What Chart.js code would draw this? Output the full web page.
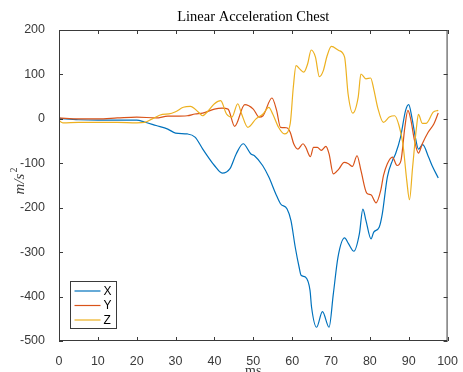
<!DOCTYPE html>
<html>
<head>
<meta charset="utf-8">
<script src="https://cdn.jsdelivr.net/npm/chart.js@4.4.0/dist/chart.umd.min.js"></script>
<style>
  html, body { margin: 0; padding: 0; background: #ffffff; }
  #wrap { width: 463px; height: 372px; }
</style>
</head>
<body>
<div id="wrap"><canvas id="accelChart" width="463" height="372"></canvas></div>
<script>
// Data (time in ms, acceleration in m/s^2)
let seriesNames = ["X", "Y", "Z"];
let seriesColors = ["#0072BD", "#D95319", "#EDB120"];

let xTimes = [0, 5, 10, 15, 20, 22, 25, 28, 30, 33, 35, 37, 38.4, 40, 42, 44, 45.6, 47.4, 49.4, 50.3,
  52.4, 54, 55.8, 57, 58.7, 59.7, 60.8, 61.8, 62.3, 63.4, 64.6, 65, 66.3, 67.8, 69.5, 70.6, 71.8, 73.5,
  74.5, 75.9, 77.3, 78.2, 79, 80.3, 81, 82.4, 83.2, 84.5, 85.8, 86.6, 87.9, 89.2, 90, 90.8, 91.7, 92.5,
  93.6, 95.1, 96, 97.6];
let xValues = [1, -2, -3, -3, -3, -7, -15, -23, -32, -34, -41, -68, -86, -105, -122, -112, -79, -56, -79, -83,
  -105, -131, -169, -191, -203, -229, -289, -334, -352, -356, -386, -424, -469, -434, -469, -394, -311, -268,
  -281, -298, -259, -203, -229, -270, -255, -244, -214, -131, -94, -79, -41, 19, 32, 4, -41, -68,
  -58, -86, -105, -133];

let yTimes = [0, 5, 10, 15, 20, 25, 28, 30, 33, 35, 37, 40, 42, 43.5, 45.2, 47.8, 50, 51.5, 52.5, 54.8,
  56, 57, 58.5, 59.5, 60.4, 61.5, 62.8, 63.5, 64.7, 65.5, 66.5, 67.5, 68.7, 69.5, 70.6, 72, 73.4, 74.5,
  75.5, 76.7, 77.7, 79.2, 80.3, 81.6, 82.8, 83.5, 84.5, 85.8, 87, 88, 89, 89.8, 90.5, 91.5, 92.5, 93.5,
  95, 96.5, 97.6];
let yValues = [2, 0, 0, 2, 4, 2, 6, 6, 7, 11, 13, 22, 24, 22, -17, 32, 22, 4, 7, 47,
  19, -19, -20, -30, -56, -68, -56, -64, -85, -64, -64, -71, -62, -79, -124, -113, -98, -101,
  -107, -83, -116, -167, -171, -189, -161, -128, -101, -86, -105, -94, -19, 19, 0, -49, -77, -56,
  -30, -11, 13];

let zTimes = [0, 1, 5, 10, 15, 20, 22, 24, 26.6, 28.3, 30, 32, 33.8, 35.9, 36.9, 38.5, 40, 41.6, 43.1, 44.5,
  46, 47, 48.6, 50.7, 52.5, 54, 55, 56.5, 58, 59.5, 60.3, 61, 62, 63, 64, 64.9, 66, 67, 68, 69, 70.1,
  72, 73.5, 74.4, 75.6, 77, 77.7, 79, 80.2, 81, 82, 83.5, 85, 86.4, 87.5, 88.5, 89.5, 90.2, 91, 92,
  92.5, 93.5, 94.5, 96.3, 97.6];
let zValues = [-4, -9, -8, -8, -8, -9, -8, 0, 10, 11, 16, 26, 28, 15, 7, 19, 34, 41, 11, 4,
  34, 11, -19, 0, 11, 26, 11, -19, -34, -11, 71, 120, 112, 105, 124, 155, 139, 95, 108, 142, 163,
  154, 139, 56, 13, 49, 101, 90, 92, 67, 26, -8, 4, 7, -15, -56, -139, -182, -109, -19,
  10, -10, -10, 15, 19];

let xTickStep = 10;
let yTickStep = 100;

let axisColor = "#3a3a3a";
let tickFont = { family: "'Liberation Sans', Arial, sans-serif", size: 12.5 };

function toPoints(times, values) {
  return times.map((t, i) => ({ x: t, y: values[i] }));
}

// Frame, inward ticks, legend, title and axis labels in the MATLAB style
const matlabFrame = {
  id: "matlabFrame",
  afterDatasetsDraw(chart) {
    let ctx = chart.ctx;
    let area = chart.chartArea;
    let xs = chart.scales.x;
    let ys = chart.scales.y;
    let tickLen = 4;

    ctx.save();
    ctx.strokeStyle = axisColor;
    ctx.lineWidth = 1;

    // box
    ctx.strokeRect(area.left + 0.5, area.top + 0.5, area.right - area.left - 1, area.bottom - area.top - 1);

    // ticks pointing inwards, on all four sides
    ctx.beginPath();
    xs.ticks.forEach((t) => {
      let px = Math.round(xs.getPixelForValue(t.value)) + 0.5;
      ctx.moveTo(px, area.bottom);
      ctx.lineTo(px, area.bottom - tickLen);
      ctx.moveTo(px, area.top);
      ctx.lineTo(px, area.top + tickLen);
    });
    ys.ticks.forEach((t) => {
      let py = Math.round(ys.getPixelForValue(t.value)) + 0.5;
      ctx.moveTo(area.left, py);
      ctx.lineTo(area.left + tickLen, py);
      ctx.moveTo(area.right, py);
      ctx.lineTo(area.right - tickLen, py);
    });
    ctx.stroke();

    // legend box in the lower left corner
    let lx = 70.5, ly = 281.5, lw = 46, lh = 47;
    ctx.fillStyle = "#ffffff";
    ctx.fillRect(lx, ly, lw, lh);
    ctx.strokeRect(lx, ly, lw, lh);
    ctx.font = "12px 'Liberation Sans', Arial, sans-serif";
    ctx.textBaseline = "middle";
    ctx.textAlign = "left";
    chart.data.datasets.forEach((ds, i) => {
      let rowY = ly + 9.5 + i * 14.5;
      ctx.strokeStyle = ds.borderColor;
      ctx.lineWidth = 1.2;
      ctx.beginPath();
      ctx.moveTo(lx + 4, rowY);
      ctx.lineTo(lx + 30, rowY);
      ctx.stroke();
      ctx.fillStyle = "#000000";
      ctx.fillText(ds.label, lx + 33, rowY + 0.5);
    });

    // title
    let cx = (area.left + area.right) / 2;
    ctx.fillStyle = "#000000";
    ctx.textAlign = "center";
    ctx.textBaseline = "middle";
    ctx.font = "14.5px 'Liberation Serif', 'DejaVu Serif', serif";
    ctx.fillText("Linear Acceleration Chest", cx, 17);

    // x label (cut off by the bottom edge like the reference)
    ctx.fillStyle = axisColor;
    ctx.textBaseline = "top";
    ctx.font = "14px 'Liberation Serif', 'DejaVu Serif', serif";
    ctx.fillText("ms", cx, 364);

    // y label m/s^2, rotated
    ctx.save();
    ctx.translate(24, 181);
    ctx.rotate(-Math.PI / 2);
    ctx.textBaseline = "alphabetic";
    ctx.textAlign = "left";
    ctx.font = "italic 15px 'Liberation Serif', 'DejaVu Serif', serif";
    let base = "m/s";
    let bw = ctx.measureText(base).width;
    ctx.font = "10px 'Liberation Serif', 'DejaVu Serif', serif";
    let sw = ctx.measureText("2").width;
    let startX = -(bw + sw + 1) / 2;
    ctx.font = "italic 15px 'Liberation Serif', 'DejaVu Serif', serif";
    ctx.fillText(base, startX, 0);
    ctx.font = "10px 'Liberation Serif', 'DejaVu Serif', serif";
    ctx.fillText("2", startX + bw + 1, -7);
    ctx.restore();

    ctx.restore();
  },
};

let ctx = document.getElementById("accelChart").getContext("2d");

let accelChart = new Chart(ctx, {
  type: "line",
  data: {
    datasets: [
      { label: seriesNames[0], data: toPoints(xTimes, xValues), borderColor: seriesColors[0], order: 3 },
      { label: seriesNames[1], data: toPoints(yTimes, yValues), borderColor: seriesColors[1], order: 2 },
      { label: seriesNames[2], data: toPoints(zTimes, zValues), borderColor: seriesColors[2], order: 1 },
    ],
  },
  options: {
    responsive: false,
    animation: false,
    devicePixelRatio: 1,
    layout: { padding: { top: 30, right: 10, left: 0, bottom: 0 } },
    elements: {
      point: { radius: 0 },
      line: { borderWidth: 1.2, fill: false, cubicInterpolationMode: "monotone" },
    },
    plugins: {
      legend: { display: false },
      title: { display: false },
      tooltip: { enabled: false },
    },
    scales: {
      x: {
        type: "linear",
        min: 0,
        max: 100,
        grid: { display: false },
        border: { display: false },
        ticks: { stepSize: xTickStep, padding: 5, color: axisColor, font: tickFont, maxRotation: 0, autoSkip: false },
        afterFit: function (scale) {
          scale.height = 31;
        },
      },
      y: {
        type: "linear",
        min: -500,
        max: 200,
        grid: { display: false },
        border: { display: false },
        ticks: { stepSize: yTickStep, padding: 6, color: axisColor, font: tickFont },
        afterFit: function (scale) {
          scale.width = 59;
        },
      },
    },
  },
  plugins: [matlabFrame],
});
</script>
</body>
</html>
